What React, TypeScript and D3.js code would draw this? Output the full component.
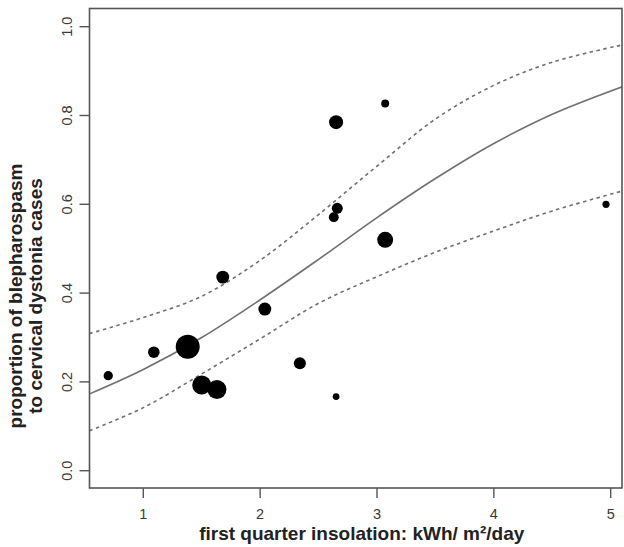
import React from 'react';
import * as d3 from 'd3';

// observed regions: insolation (kWh/m2/day) vs proportion, bubble = number of cases
const insolation = [0.70, 1.09, 1.38, 1.50, 1.63, 1.68, 2.04, 2.34, 2.65, 2.63, 2.66, 2.65, 3.07, 3.07, 4.96];
const proportion = [0.214, 0.267, 0.279, 0.193, 0.183, 0.436, 0.364, 0.242, 0.167, 0.571, 0.591, 0.785, 0.827, 0.520, 0.600];
const cases = [15, 23, 100, 63, 63, 29, 29, 25, 8, 17, 21, 34, 11, 44, 9];

// fitted logistic curve and its confidence band
const fitX = [0.54, 1.0, 1.5, 2.0, 2.5, 3.0, 3.5, 4.0, 4.5, 5.1];
const fitMid = [0.173, 0.228, 0.300, 0.385, 0.476, 0.570, 0.658, 0.737, 0.803, 0.865];
const fitUpper = [0.309, 0.345, 0.393, 0.474, 0.577, 0.686, 0.792, 0.868, 0.920, 0.959];
const fitLower = [0.090, 0.142, 0.218, 0.297, 0.377, 0.437, 0.492, 0.540, 0.585, 0.630];

const xTicks = [1, 2, 3, 4, 5];
const yTicks = [0, 0.2, 0.4, 0.6, 0.8, 1.0];

const W = 624;
const H = 547;
const box = { left: 89.5, top: 8.5, right: 622, bottom: 488 };

const App = () => {
  const x = d3.scaleLinear().domain([1, 5]).range([143.3, 610.7]);
  const y = d3.scaleLinear().domain([0, 1]).range([470.7, 26.7]);
  const r = d3.scaleSqrt().domain([0, 100]).range([0, 12]);

  const line = d3.line<number>()
    .x((d, i) => x(fitX[i]))
    .y((d) => y(d))
    .curve(d3.curveCatmullRom.alpha(0.5));

  const axisColor = '#555';
  const font = '"Liberation Sans", Arial, Helvetica, sans-serif';
  const ylabMid = 296;

  return (
    <svg width={W} height={H} style={{ position: 'absolute', left: 0, top: 0, background: '#fff' }}>
      <defs>
        <clipPath id="plotclip">
          <rect x={box.left} y={box.top} width={box.right - box.left} height={box.bottom - box.top} />
        </clipPath>
      </defs>
      <rect x={0} y={0} width={W} height={H} fill="#fff" />

      <g clipPath="url(#plotclip)" fill="none" stroke="#707070" strokeWidth={1.6}>
        <path d={line(fitMid) || ''} />
        <path d={line(fitUpper) || ''} strokeDasharray="3.5,3.5" />
        <path d={line(fitLower) || ''} strokeDasharray="3.5,3.5" />
      </g>

      <g fill="#000">
        {insolation.map((v, i) => (
          <circle key={i} cx={x(v)} cy={y(proportion[i])} r={r(cases[i])} />
        ))}
      </g>

      {/* frame */}
      <rect x={box.left} y={box.top} width={box.right - box.left} height={box.bottom - box.top}
        fill="none" stroke={axisColor} strokeWidth={1.6} />

      {/* x axis */}
      <g stroke={axisColor} strokeWidth={1.4}>
        {xTicks.map((t) => (
          <line key={t} x1={x(t)} x2={x(t)} y1={box.bottom} y2={box.bottom + 10} />
        ))}
      </g>
      <g fontFamily={font} fontSize={14.5} fill="#3a3a3a" textAnchor="middle">
        {xTicks.map((t) => (
          <text key={t} x={x(t)} y={519}>{t}</text>
        ))}
      </g>

      {/* y axis */}
      <g stroke={axisColor} strokeWidth={1.4}>
        {yTicks.map((t) => (
          <line key={t} x1={box.left - 10} x2={box.left} y1={y(t)} y2={y(t)} />
        ))}
      </g>
      <g fontFamily={font} fontSize={14.5} fill="#3a3a3a" textAnchor="middle">
        {yTicks.map((t) => (
          <text key={t} transform={`translate(72,${y(t)}) rotate(-90)`}>{t.toFixed(1)}</text>
        ))}
      </g>

      {/* titles */}
      <text x={(box.left + box.right) / 2 + 6} y={540} textAnchor="middle"
        fontFamily={font} fontSize={19} fontWeight="bold" fill="#222">
        first quarter insolation: kWh/ m²/day
      </text>
      <g fontFamily={font} fontSize={19} fontWeight="bold" fill="#222" textAnchor="middle">
        <text transform={`translate(22,${ylabMid}) rotate(-90)`}>proportion of blepharospasm</text>
        <text transform={`translate(42,${ylabMid}) rotate(-90)`}>to cervical dystonia cases</text>
      </g>
    </svg>
  );
};

export default App;
